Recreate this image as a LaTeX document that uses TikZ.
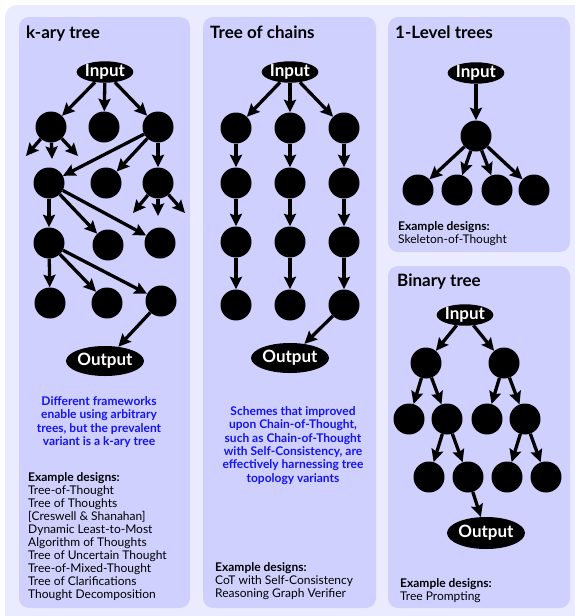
\documentclass[tikz,border=0pt]{standalone}
\usepackage{fontspec}
\setmainfont{Lato}
\usetikzlibrary{shapes.geometric,arrows.meta}
\definecolor{outerbg}{RGB}{235,235,255}
\definecolor{panelbg}{RGB}{208,208,255}
\definecolor{noteblue}{RGB}{20,20,240}
\begin{document}
\begin{tikzpicture}[x=1pt,y=-1pt,
  panel/.style={fill=panelbg, rounded corners=10pt},
  dot/.style={circle, fill=black, minimum size=31pt, inner sep=0pt},
  inp/.style={ellipse, fill=black, text=white, font=\bfseries\fontsize{17}{17}\selectfont, inner sep=0pt, minimum width=56pt, minimum height=20pt},
  outp/.style={inp, minimum width=71pt, minimum height=30pt},
  arr/.style={-{Stealth[length=12.5pt,width=12pt,inset=2pt]}, line width=3.3pt},
  ttl/.style={anchor=base west, inner sep=0pt, font=\bfseries\fontsize{17}{17}\selectfont},
  note/.style={align=center, text=noteblue, inner sep=0pt, font=\bfseries\fontsize{12}{13.3}\selectfont},
  ex/.style={anchor=north west, align=left, inner sep=0pt, font=\fontsize{12}{13}\selectfont},
]
\useasboundingbox (0,0) rectangle (574,616);
\fill[outerbg, rounded corners=12pt] (5,5) rectangle (600,640);
% panels
\fill[panel] (19,17) rectangle (190,608);
\fill[panel] (203,17) rectangle (376,608);
\fill[panel] (388,17) rectangle (570,252);
\fill[panel] (388,266) rectangle (570,608);

% ---------- k-ary tree ----------
\node[ttl] (t1) at (26,38) {k-ary tree};
\node[inp] (in1) at (105,72) {Input};
\node[dot] (a1) at (51,127) {};
\node[dot] (a2) at (104,127) {};
\node[dot] (a3) at (158,127) {};
\coordinate (fa1) at (26,156);
\coordinate (fa2) at (52,159);
\coordinate (fa3) at (78,156);
\node[dot] (b1) at (49,183) {};
\node[dot] (b2) at (106,183) {};
\node[dot] (b3) at (158,183) {};
\coordinate (fb1) at (133,213);
\coordinate (fb2) at (158,216);
\coordinate (fb3) at (185,213);
\node[dot] (c1) at (49,243) {};
\node[dot] (c2) at (108,245) {};
\node[dot] (c3) at (160,243) {};
\node[dot] (d1) at (50,303) {};
\node[dot] (d2) at (107,303) {};
\node[dot] (d3) at (161,301) {};
\node[outp] (out1) at (105,361) {Output};
\foreach \t in {a1,a2,a3} \draw[arr] (in1) -- (\t);
\foreach \t in {fa1,fa2,fa3} \draw[arr] (a1) -- (\t);
\foreach \t in {b1,b2,b3} \draw[arr] (a3) -- (\t);
\foreach \t in {fb1,fb2,fb3} \draw[arr] (b3) -- (\t);
\foreach \t in {c1,c2,c3} \draw[arr] (b1) -- (\t);
\foreach \t in {d1,d2,d3} \draw[arr] (c1) -- (\t);
\draw[arr] (d3) -- (out1);
\node[note] (n1) at (99,422) {Different frameworks\\enable using arbitrary\\trees, but the prevalent\\variant is a k-ary tree};
\node[ex] (e1) at (28,472) {\textbf{Example designs:}\\Tree-of-Thought\\Tree of Thoughts\\{[Creswell \& Shanahan]}\\Dynamic Least-to-Most\\Algorithm of Thoughts\\Tree of Uncertain Thought\\Tree-of-Mixed-Thought\\Tree of Clarifications\\Thought Decomposition};

% ---------- Tree of chains ----------
\node[ttl] (t2) at (210,38) {Tree of chains};
\node[inp] (in2) at (290,72) {Input};
\foreach \c/\x in {1/236,2/290,3/344}{
  \foreach \r/\y in {1/128,2/183,3/242,4/305}{
    \node[dot] (k\c\r) at (\x,\y) {};
  }
  \draw[arr] (in2) -- (k\c1);
  \draw[arr] (k\c1) -- (k\c2);
  \draw[arr] (k\c2) -- (k\c3);
  \draw[arr] (k\c3) -- (k\c4);
}
\node[outp] (out2) at (290,358) {Output};
\draw[arr] (k34) -- (out2);
\node[note] (n2) at (293,445.5) {Schemes that improved\\upon Chain-of-Thought,\\such as Chain-of-Thought\\with Self-Consistency, are\\effectively harnessing tree\\topology variants};
\node[ex] (e2) at (215,562) {\textbf{Example designs:}\\CoT with Self-Consistency\\Reasoning Graph Verifier};

% ---------- 1-Level trees ----------
\node[ttl] (t3) at (395,38) {1-Level trees};
\node[inp] (in3) at (476,73) {Input};
\node[dot] (m3) at (476,136) {};
\foreach \i/\x in {1/418,2/457,3/497,4/534}{
  \node[dot] (s\i) at (\x,190) {};
  \draw[arr] (m3) -- (s\i);
}
\draw[arr] (in3) -- (m3);
\node[ex] (e3) at (398,221) {\textbf{Example designs:}\\Skeleton-of-Thought};

% ---------- Binary tree ----------
\node[ttl] (t4) at (397,286) {Binary tree};
\node[inp] (in4) at (465,315) {Input};
\node[dot] (l1) at (426,363) {};
\node[dot] (r1) at (504,363) {};
\node[dot] (p1) at (409,419) {};
\node[dot] (p2) at (447,419) {};
\node[dot] (p3) at (487,419) {};
\node[dot] (p4) at (525,419) {};
\node[dot] (q1) at (429,477) {};
\node[dot] (q2) at (468,477) {};
\node[dot] (q3) at (507,477) {};
\node[dot] (q4) at (546,477) {};
\node[outp, minimum height=32pt] (out4) at (486,533) {Output};
\draw[arr] (in4) -- (l1);
\draw[arr] (in4) -- (r1);
\draw[arr] (l1) -- (p1);
\draw[arr] (l1) -- (p2);
\draw[arr] (r1) -- (p3);
\draw[arr] (r1) -- (p4);
\draw[arr] (p2) -- (q1);
\draw[arr] (p2) -- (q2);
\draw[arr] (p4) -- (q3);
\draw[arr] (p4) -- (q4);
\draw[arr] (q2) -- (out4);
\node[ex] (e4) at (400,578) {\textbf{Example designs:}\\Tree Prompting};
\end{tikzpicture}
\end{document}
